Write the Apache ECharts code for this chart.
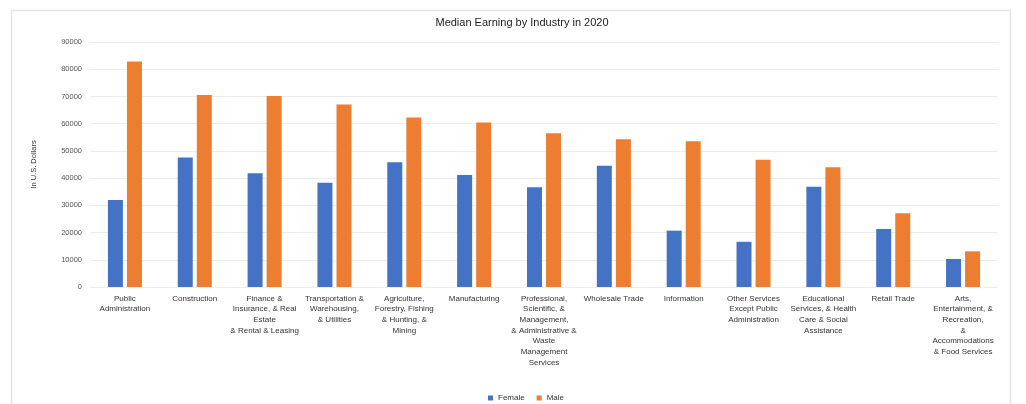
<!DOCTYPE html>
<html>
<head>
<meta charset="utf-8">
<script src="https://cdn.jsdelivr.net/npm/echarts@6/dist/echarts.min.js"></script>
<style>
html,body{margin:0;padding:0;background:#fff;}
#chart{width:1026px;height:404px;}
</style>
</head>
<body>
<div id="chart"></div>
<script>
var categories = [
  "Public\nAdministration",
  "Construction",
  "Finance &\nInsurance, & Real\nEstate\n& Rental & Leasing",
  "Transportation &\nWarehousing,\n& Utilities",
  "Agriculture,\nForestry, Fishing\n& Hunting, &\nMining",
  "Manufacturing",
  "Professional,\nScientific, &\nManagement,\n& Administrative &\nWaste\nManagement\nServices",
  "Wholesale Trade",
  "Information",
  "Other Services\nExcept Public\nAdministration",
  "Educational\nServices, & Health\nCare & Social\nAssistance",
  "Retail Trade",
  "Arts,\nEntertainment, &\nRecreation,\n&\nAccommodations\n& Food Services"
];
var female = [32000, 47600, 41800, 38300, 45800, 41100, 36600, 44500, 20700, 16600, 36800, 21300, 10300];
var male   = [82800, 70500, 70200, 67000, 62300, 60400, 56500, 54300, 53500, 46700, 44000, 27100, 13100];
var seriesNames = ["Female", "Male"];
var titleText = "Median Earning by Industry in 2020";
var yAxisName = "In U.S. Dollars";

var chart = echarts.init(document.getElementById('chart'), null, {renderer: 'canvas'});
var font = 'Liberation Sans, Arial, sans-serif';
chart.setOption({
  animation: false,
  backgroundColor: '#ffffff',
  graphic: [{
    type: 'rect',
    shape: {x: 11.5, y: 10.5, width: 999, height: 400},
    style: {fill: 'none', stroke: '#e4e4e4', lineWidth: 1.5},
    silent: true
  }],
  title: {
    text: titleText,
    left: 517,
    textAlign: 'center',
    top: 12,
    textStyle: {fontFamily: font, fontSize: 11, fontWeight: 'normal', color: '#222'}
  },
  legend: {
    data: seriesNames,
    top: 389,
    left: 483,
    itemWidth: 5,
    itemHeight: 5,
    itemGap: 12,
    icon: 'rect',
    textStyle: {fontFamily: font, fontSize: 8, color: '#333'}
  },
  grid: {left: 90, right: 28, top: 42, bottom: 117},
  xAxis: {
    type: 'category',
    data: categories,
    axisLine: {show: false},
    axisTick: {show: false},
    axisLabel: {
      interval: 0,
      margin: 6,
      fontFamily: font,
      fontSize: 8,
      lineHeight: 10.7,
      color: '#333',
      verticalAlign: 'top'
    }
  },
  yAxis: {
    type: 'value',
    min: 0,
    max: 90000,
    interval: 10000,
    name: yAxisName,
    nameLocation: 'middle',
    nameGap: 52,
    nameRotate: 90,
    nameTextStyle: {fontFamily: font, fontSize: 7.5, color: '#333'},
    axisLine: {show: false},
    axisTick: {show: false},
    axisLabel: {fontFamily: font, fontSize: 7.5, color: '#555', margin: 8,
      formatter: function (v) { return String(v); }},
    splitLine: {lineStyle: {color: '#ececec', width: 1}}
  },
  series: [
    {
      name: seriesNames[0],
      type: 'bar',
      data: female,
      barWidth: 15,
      barGap: '27%',
      itemStyle: {color: '#4472C4'}
    },
    {
      name: seriesNames[1],
      type: 'bar',
      data: male,
      barWidth: 15,
      itemStyle: {color: '#ED7D31'}
    }
  ]
});
</script>
</body>
</html>
